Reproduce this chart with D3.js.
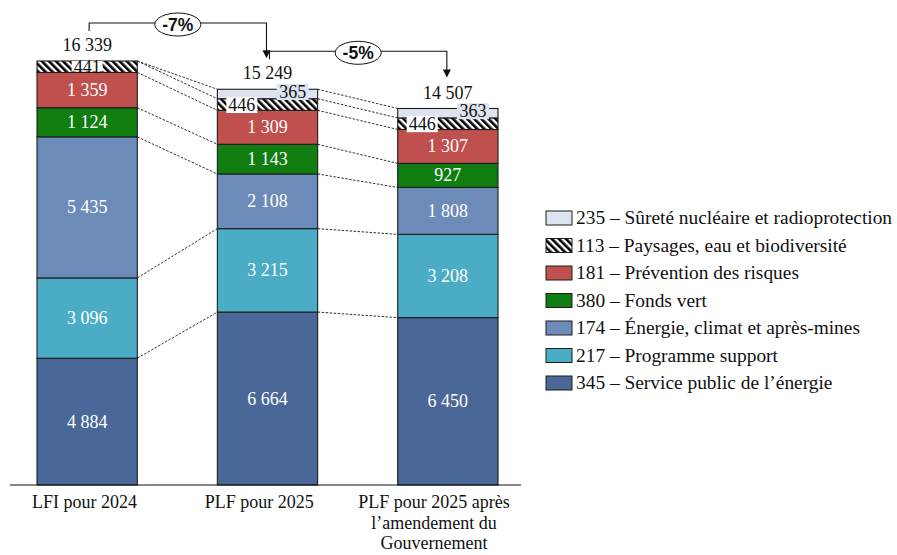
<!DOCTYPE html>
<html>
<head>
<meta charset="utf-8">
<script src="https://cdn.jsdelivr.net/npm/d3@7"></script>
<style>
  body { margin: 0; background: #fff; }
  svg { display: block; }
  text { font-family: "Liberation Serif", "Times New Roman", serif; }
</style>
</head>
<body>
<svg id="chart" width="897" height="555"></svg>
<script>
// Budget columns (M€)
const categories = ["LFI pour 2024", "PLF pour 2025", "PLF pour 2025 après l’amendement du Gouvernement"];
const categoryLines = [["LFI pour 2024"], ["PLF pour 2025"], ["PLF pour 2025 après", "l’amendement du", "Gouvernement"]];

// Programmes, stacked bottom to top
const seriesKeys = ["service", "support", "energie", "fondsVert", "prevention", "paysages", "surete"];
const seriesNames = [
  "345 – Service public de l’énergie",
  "217 – Programme support",
  "174 – Énergie, climat et après-mines",
  "380 – Fonds vert",
  "181 – Prévention des risques",
  "113 – Paysages, eau et biodiversité",
  "235 – Sûreté nucléaire et radioprotection"
];
const service    = [4884, 6664, 6450];
const support    = [3096, 3215, 3208];
const energie    = [5435, 2108, 1808];
const fondsVert  = [1124, 1143, 927];
const prevention = [1359, 1309, 1307];
const paysages   = [441, 446, 446];
const surete     = [0, 365, 363];
const totals     = [16339, 15249, 14507];

const colors = ["#4a6897", "#4bacc6", "#6d8bb8", "#0f7d0f", "#c0504d", "url(#hatch)", "#dde4ef"];

const values = { service, support, energie, fondsVert, prevention, paysages, surete };
const table = categories.map((c, i) => {
  const row = { category: c };
  seriesKeys.forEach(k => { row[k] = values[k][i]; });
  return row;
});

const svg = d3.select("#chart");
const defs = svg.append("defs");
const hatch = defs.append("pattern")
  .attr("id", "hatch")
  .attr("patternUnits", "userSpaceOnUse")
  .attr("width", 5).attr("height", 5)
  .attr("patternTransform", "rotate(-45)");
hatch.append("rect").attr("width", 5).attr("height", 5).attr("fill", "#fff");
hatch.append("rect").attr("width", 2.6).attr("height", 5).attr("fill", "#000");

const fr = d3.formatLocale({ decimal: ",", thousands: " ", grouping: [3], currency: ["", " €"] });
const fmt = fr.format(",");

const baseY = 485;
const y = d3.scaleLinear().domain([0, d3.max(totals)]).range([baseY, 61]);
const x = d3.scaleBand().domain(categories).range([17, 518]).paddingInner(0.444).paddingOuter(0.111);
const bw = x.bandwidth();
const labelX = d3.scalePoint().domain(categories).range([84.5, 434]);

const stacked = d3.stack().keys(seriesKeys)(table);

// dashed connectors between the tops of matching segments
const links = svg.append("g")
  .attr("fill", "none")
  .attr("stroke", "#333")
  .attr("stroke-width", 1)
  .attr("stroke-dasharray", "2.5,1.5");
stacked.forEach(layer => {
  for (let i = 0; i < categories.length - 1; i++) {
    links.append("line")
      .attr("x1", x(categories[i]) + bw)
      .attr("y1", y(layer[i][1]))
      .attr("x2", x(categories[i + 1]))
      .attr("y2", y(layer[i + 1][1]));
  }
});

// bar segments
const bars = svg.append("g");
stacked.forEach((layer, si) => {
  bars.selectAll(null)
    .data(layer.filter(d => d[1] - d[0] > 0))
    .join("rect")
    .attr("x", d => x(d.data.category))
    .attr("y", d => y(d[1]))
    .attr("width", bw)
    .attr("height", d => y(d[0]) - y(d[1]))
    .attr("fill", colors[si])
    .attr("stroke", "#1c1c1c")
    .attr("stroke-width", 1.1);
});

// value labels
const labels = svg.append("g").attr("font-size", 18).attr("text-anchor", "middle");
stacked.forEach((layer, si) => {
  const key = seriesKeys[si];
  layer.forEach((d, i) => {
    const v = d[1] - d[0];
    if (v <= 0) return;
    const cx = x(d.data.category) + bw / 2;
    const cy = (y(d[0]) + y(d[1])) / 2;
    if (key === "paysages") {
      const lx = i === 0 ? cx : x(d.data.category) + 24.5;
      labels.append("rect")
        .attr("x", lx - 15.5).attr("y", i === 0 ? y(d[1]) : cy - 7.5)
        .attr("width", 31).attr("height", i === 0 ? y(d[0]) - y(d[1]) - 1 : 16)
        .attr("fill", "#fff");
      labels.append("text").attr("x", lx).attr("y", cy + 6).attr("fill", "#111").text(fmt(v));
    } else if (key === "surete") {
      const lx = x(d.data.category) + bw - 25;
      labels.append("rect")
        .attr("x", lx - 16).attr("y", cy - 10)
        .attr("width", 32).attr("height", 16)
        .attr("fill", colors[si]);
      labels.append("text").attr("x", lx).attr("y", cy + 4).attr("fill", "#111").text(fmt(v));
    } else {
      labels.append("text").attr("x", cx).attr("y", cy + 6).attr("fill", "#fff").text(fmt(v));
    }
  });
});

// totals above bars
svg.append("g").attr("font-size", 18).attr("text-anchor", "middle")
  .selectAll("text").data(categories).join("text")
  .attr("x", c => x(c) + bw / 2)
  .attr("y", (c, i) => y(totals[i]) - 10)
  .attr("fill", "#111")
  .text((c, i) => fmt(totals[i]));

// change brackets
const pct = d3.format(".0%");
const br = svg.append("g");
for (let i = 0; i < categories.length - 1; i++) {
  const x1 = x(categories[i]) + bw / 2 + 2;
  const x2 = x(categories[i + 1]) + bw / 2 - 1;
  const y0 = y(totals[i]) - 30;
  const yh = y(totals[i]) - 38;
  const tip = y(totals[i + 1]) - 31;
  br.append("path")
    .attr("d", `M${x1},${y0}V${yh}H${x2}V${tip - 7}`)
    .attr("fill", "none").attr("stroke", "#111").attr("stroke-width", 1.1);
  br.append("path")
    .attr("d", `M${x2 - 4},${tip - 8}L${x2 + 4},${tip - 8}L${x2},${tip}Z`)
    .attr("fill", "#111");
  const mx = (x1 + x2) / 2;
  br.append("ellipse")
    .attr("cx", mx).attr("cy", yh + 1.5).attr("rx", 23).attr("ry", 11.5)
    .attr("fill", "#fff").attr("stroke", "#111").attr("stroke-width", 1);
  br.append("text")
    .attr("x", mx).attr("y", yh + 8)
    .attr("text-anchor", "middle")
    .style("font-family", "'Liberation Sans', Arial, sans-serif")
    .attr("font-weight", "bold").attr("font-size", 17.5)
    .attr("fill", "#111")
    .text(pct(totals[i + 1] / totals[i] - 1).replace("−", "-"));
}

// baseline
svg.append("line")
  .attr("x1", 10).attr("x2", 521)
  .attr("y1", baseY).attr("y2", baseY)
  .attr("stroke", "#111").attr("stroke-width", 1.1);

// category labels
const cat = svg.append("g").attr("font-size", 18).attr("text-anchor", "middle").attr("fill", "#111");
categories.forEach((c, i) => {
  const t = cat.append("text").attr("x", labelX(c)).attr("y", 508);
  categoryLines[i].forEach((line, j) => {
    t.append("tspan").attr("x", labelX(c)).attr("dy", j === 0 ? 0 : 20.5).text(line);
  });
});

// legend (top item is the top of the stack)
const legend = svg.append("g").attr("font-size", 19.4).attr("fill", "#111");
const legendOrder = d3.range(seriesKeys.length).reverse();
legendOrder.forEach((si, r) => {
  const ly = 211 + r * 27.5;
  legend.append("rect")
    .attr("x", 546).attr("y", ly).attr("width", 26).attr("height", 14)
    .attr("fill", colors[si]).attr("stroke", "#1c1c1c").attr("stroke-width", 1);
  legend.append("text").attr("x", 576).attr("y", ly + 13).text(seriesNames[si]);
});
</script>
</body>
</html>
